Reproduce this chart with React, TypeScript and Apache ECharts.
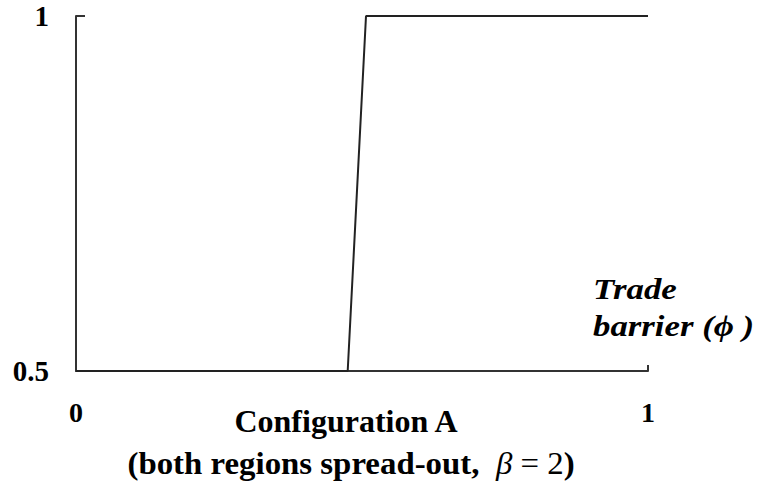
import React, { useEffect, useRef } from "react";
import * as echarts from "echarts";

const xValues = [0, 0.475, 0.507, 1];
const yValues = [0.5, 0.5, 1, 1];
const xTickValues = [0, 1];
const yTickValues = [0.5, 1];
const axisTitleLines = ["Trade", "barrier (\u03d5 )"];
const captionLine1 = "Configuration A";
const captionLine2 = ["(both regions spread-out,  ", "\u03b2", " = 2", ")"];

const FONT = "Liberation Serif";

export default function App() {
  const ref = useRef<HTMLDivElement>(null);
  useEffect(() => {
    if (!ref.current) return;
    const chart = echarts.init(ref.current, undefined, { renderer: "svg" });
    const points = xValues.map((x, i) => [x, yValues[i]]);
    const richBase = { fontFamily: FONT, fontSize: 31, lineHeight: 36, color: "#000" };
    chart.setOption({
      animation: false,
      backgroundColor: "#ffffff",
      grid: { left: 76, right: 113, top: 16, bottom: 111 },
      xAxis: {
        type: "value",
        min: xTickValues[0],
        max: xTickValues[xTickValues.length - 1],
        interval: 1,
        splitLine: { show: false },
        axisLine: { show: true, lineStyle: { color: "#333", width: 2 } },
        axisTick: { show: true, inside: true, length: 6, lineStyle: { color: "#333", width: 2 } },
        axisLabel: {
          margin: 27,
          color: "#000",
          fontFamily: FONT,
          fontWeight: "bold",
          fontSize: 28,
        },
      },
      yAxis: {
        type: "value",
        min: yTickValues[0],
        max: yTickValues[yTickValues.length - 1],
        interval: 0.5,
        splitLine: { show: false },
        axisLine: { show: true, lineStyle: { color: "#333", width: 2 } },
        axisTick: { show: true, inside: true, length: 9, lineStyle: { color: "#333", width: 2 } },
        axisLabel: {
          margin: 27,
          color: "#000",
          fontFamily: FONT,
          fontWeight: "bold",
          fontSize: 29,
          padding: [6, 0, 0, 0],
        },
      },
      series: [
        {
          type: "line",
          data: points,
          showSymbol: false,
          lineStyle: { color: "#222", width: 2 },
        },
      ],
      graphic: [
        {
          type: "text",
          x: 593,
          y: 271,
          scaleX: 1.2,
          style: {
            text: axisTitleLines.join("\n"),
            fontFamily: FONT,
            fontStyle: "italic",
            fontWeight: "bold",
            fontSize: 29,
            fill: "#000",
            lineHeight: 37,
          },
        },
        {
          type: "text",
          x: 346,
          y: 405,
          style: {
            text: captionLine1,
            fontFamily: FONT,
            fontWeight: "bold",
            fontSize: 32,
            fill: "#000",
            align: "center",
          },
        },
        {
          type: "text",
          x: 351,
          y: 446,
          scaleX: 1.06,
          style: {
            text: `{a|${captionLine2[0]}}{b|${captionLine2[1]}}{c|${captionLine2[2]}}{a|${captionLine2[3]}}`,
            align: "center",
            rich: {
              a: { ...richBase, fontWeight: "bold" },
              b: { ...richBase, fontStyle: "italic" },
              c: { ...richBase },
            },
          },
        },
      ],
    });
    return () => chart.dispose();
  }, []);
  return (
    <div
      ref={ref}
      style={{ position: "fixed", left: 0, top: 0, width: 761, height: 482 }}
    />
  );
}
